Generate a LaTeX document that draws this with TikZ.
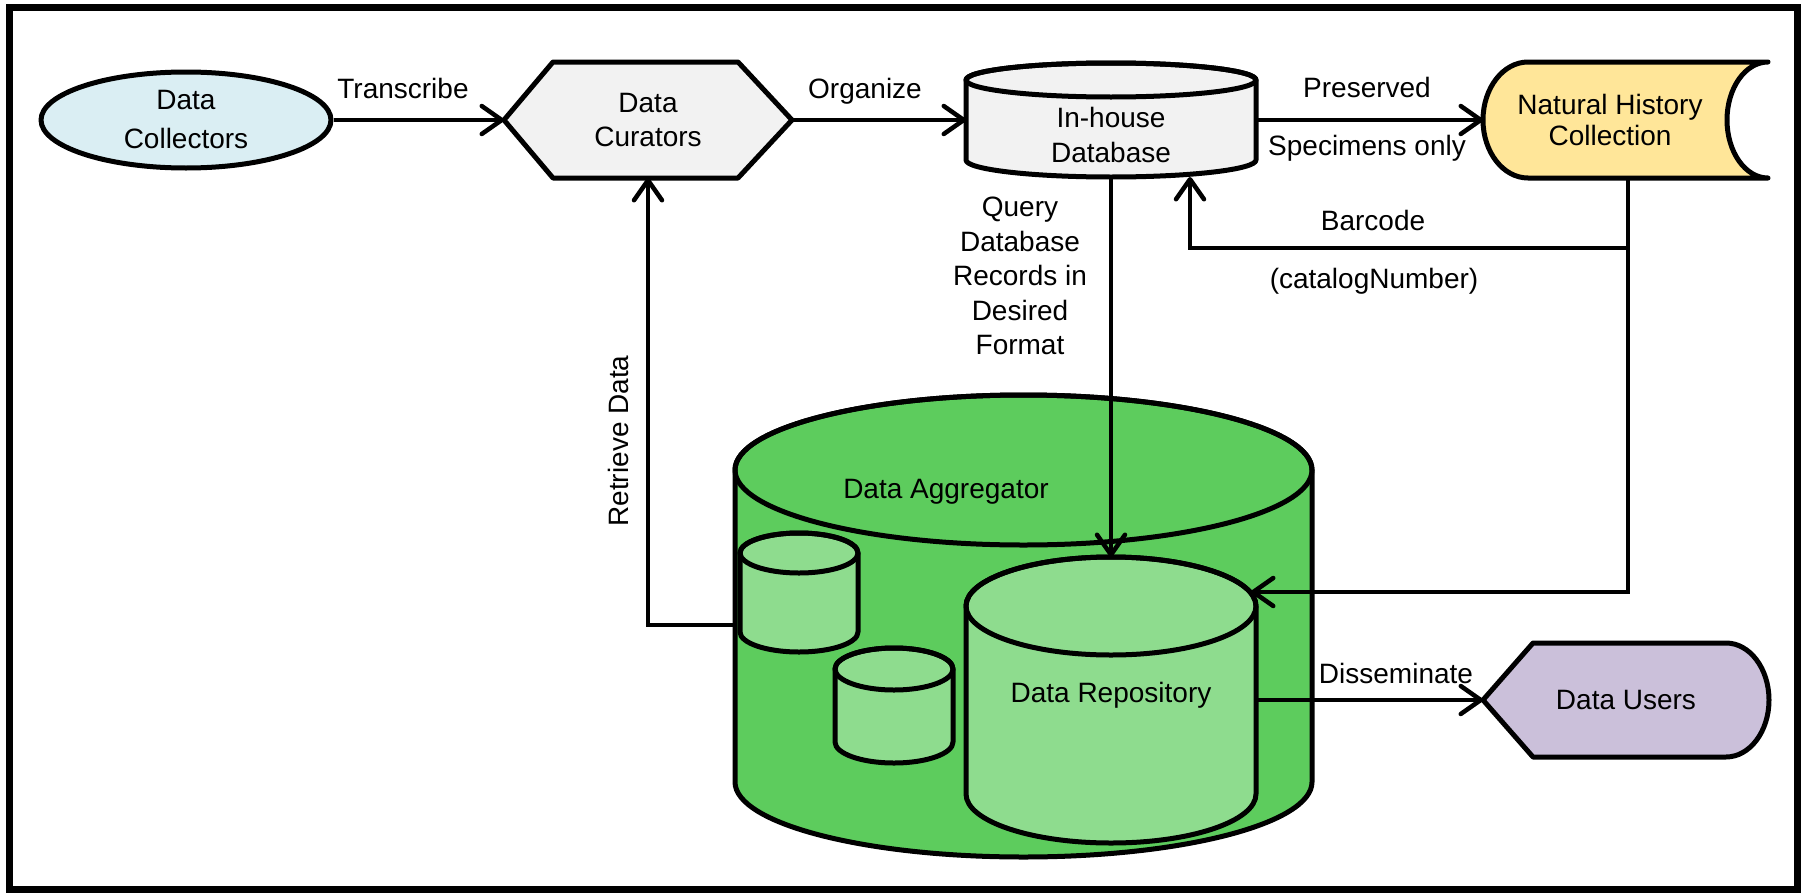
\documentclass[tikz,border=0pt]{standalone}
\usepackage{fontspec}
\setmainfont{Liberation Sans}
\usetikzlibrary{arrows.meta,shapes.geometric}

\definecolor{collectblue}{HTML}{DAEEF3}
\definecolor{paleGray}{HTML}{F2F2F2}
\definecolor{specYellow}{HTML}{FFE699}
\definecolor{aggGreen}{HTML}{5DCC5D}
\definecolor{repoGreen}{HTML}{8EDC8E}
\definecolor{userLilac}{HTML}{CBC0DA}

% database cylinder: centre x, x radius, top rim y, bottom rim y, rim y radius, fill
\newcommand{\dbcylinder}[6]{%
  \path[outline, fill=#6] (#1-#2,#3) -- (#1-#2,#4)
    arc[start angle=180, end angle=0, x radius=#2, y radius=#5]
    -- (#1+#2,#3)
    arc[start angle=0, end angle=-180, x radius=#2, y radius=#5] -- cycle;
  \draw[outline] (#1,#3) ellipse [x radius=#2, y radius=#5];
}

\begin{document}
\begin{tikzpicture}[x=1pt, y=-1pt,
  outline/.style={draw=black, line width=5pt, line join=round},
  conn/.style={line width=4.5pt, -{Straight Barb[length=20pt, width=28pt, round]}},
  flow/.style={line width=4.5pt},
  anchorbox/.style={draw=none, rectangle, inner sep=0pt, outer sep=0pt},
  txt/.style={font=\fontsize{28}{#1}\selectfont, align=center, inner sep=0pt},
  txt/.default=34,
  lbl/.style={font=\fontsize{28}{34}\selectfont, inner sep=0pt, anchor=base},
]
\useasboundingbox (0,0) rectangle (1807,894);

% outer frame
\draw[line width=7pt] (9,7) rectangle (1797,889);

% ---------- top row ----------
\node[ellipse, outline, fill=collectblue, minimum width=290pt, minimum height=96pt,
      txt=39] (col) at (186,120) {Data\\Collectors};

\path[outline, fill=paleGray] (504,120) -- (553,62) -- (738,62) -- (792,120)
  -- (738,178) -- (553,178) -- cycle;
\node[anchorbox, txt, minimum width=288pt, minimum height=116pt] (cur) at (648,120)
  {Data\\Curators};

\dbcylinder{1111}{145}{80}{160}{17}{paleGray}
\node[anchorbox, minimum width=290pt, minimum height=114pt] (inhouse) at (1111,120) {};
\node[txt=35] (inhouse-t) at (1111,135) {In-house\\Database};

\path[outline, fill=specYellow] (1528,62) -- (1768,62)
  arc[start angle=270, end angle=90, x radius=41, y radius=58]
  -- (1528,178)
  arc[start angle=90, end angle=270, x radius=45, y radius=58] -- cycle;
\node[anchorbox, minimum width=285pt, minimum height=116pt] (nhc) at (1625.5,120) {};
\node[txt=31] (nhc-t) at (1610,120) {Natural History\\Collection};

% ---------- aggregator ----------
\dbcylinder{1023.5}{288.5}{470}{782}{75}{aggGreen}
\node[anchorbox, minimum width=577pt, minimum height=460pt] (agg) at (1023.5,625) {};
\node[lbl] (agg-t) at (946,498) {Data Aggregator};

\dbcylinder{799}{59}{553}{632}{20}{repoGreen}
\dbcylinder{894}{59}{669}{742}{21}{repoGreen}

\dbcylinder{1111}{145}{606}{794}{49}{repoGreen}
\node[anchorbox, minimum width=290pt, minimum height=286pt] (repo) at (1111,700) {};
\node[lbl] (repo-t) at (1111,702) {Data Repository};

% ---------- data users ----------
\path[outline, fill=userLilac] (1483,700) -- (1533,643) -- (1726,643)
  arc[start angle=-90, end angle=90, x radius=43, y radius=57]
  -- (1533,757) -- cycle;
\node[anchorbox, txt, minimum width=286pt, minimum height=114pt] (users) at (1626,700)
  {Data Users};

% ---------- connectors ----------
\draw[conn] (col.east) -- (cur.west);
\draw[conn] (cur.east) -- (inhouse.west);
\draw[conn] (inhouse.east) -- (nhc.west);
\draw[conn] (inhouse.south) -- (repo.north);
\draw[conn] (agg.west) -| (cur.south);

\coordinate (drop) at (1628,592);
\coordinate (rtip) at (1251,592);
\coordinate (bc) at (1628,248);
\draw[conn] (nhc.south -| drop) -- (drop) -- (rtip);
\draw[conn] (bc) -| ([xshift=79pt]inhouse.south);
\draw[conn] (repo.east |- users.west) -- (users.west);

% ---------- connector labels ----------
\node[lbl] (l-transcribe) at (403,98) {Transcribe};
\node[lbl] (l-organize) at (865,98) {Organize};
\node[lbl] (l-preserved) at (1367,97) {Preserved};
\node[lbl] (l-specimens) at (1367,155) {Specimens only};
\node[lbl] (l-barcode) at (1373,230) {Barcode};
\node[lbl] (l-catalog) at (1374,288) {(catalogNumber)};
\node[txt=34.5, anchor=north] (l-query) at (1020,197)
  {Query\\Database\\Records in\\Desired\\Format};
\node[lbl, rotate=90] (l-retrieve) at (628,441) {Retrieve Data};
\node[lbl] (l-disseminate) at (1396,683) {Disseminate};
\end{tikzpicture}
\end{document}
